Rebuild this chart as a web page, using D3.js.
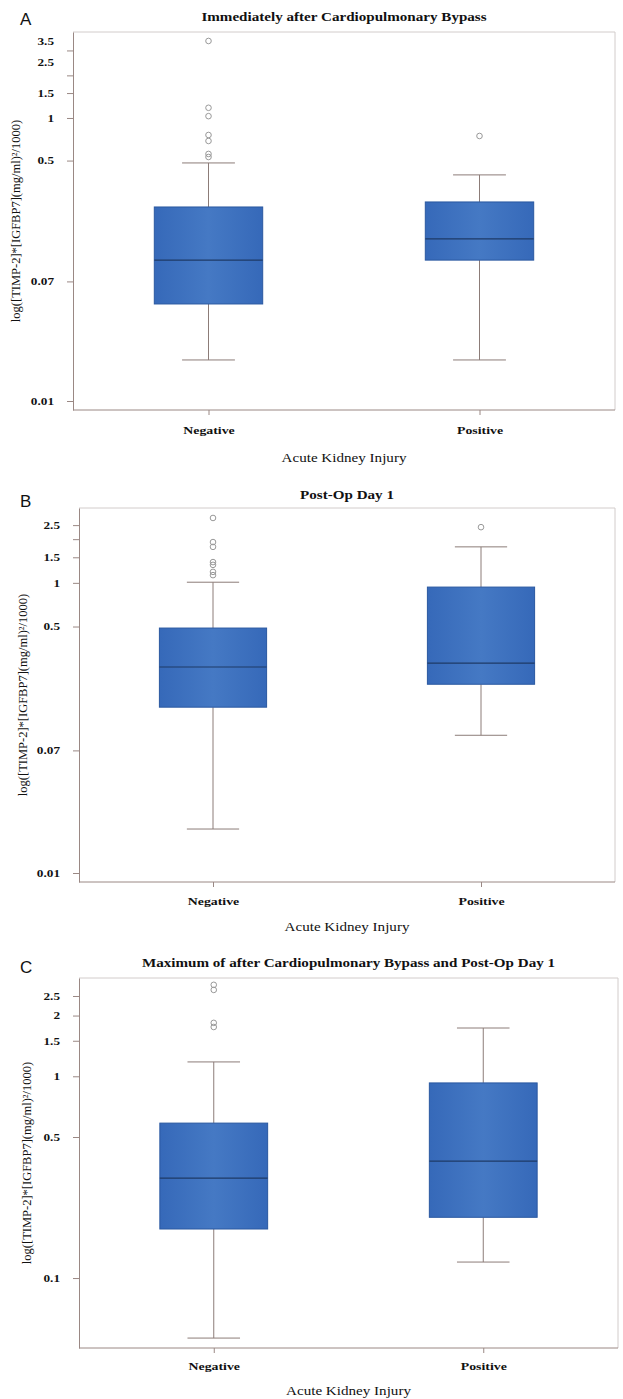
<!DOCTYPE html>
<html><head><meta charset="utf-8">
<script src="https://cdn.jsdelivr.net/npm/d3@7"></script>
<style>
body{margin:0;background:#fff;}
text{font-family:"Liberation Serif","Times New Roman",serif;fill:#111;}
</style></head>
<body><svg id="c" width="623" height="1399"></svg>
<script>
const categories = ["Negative","Positive"];
const panelLetters = ["A","B","C"];
const panelTitles = ["Immediately after Cardiopulmonary Bypass","Post-Op Day 1","Maximum of after Cardiopulmonary Bypass and Post-Op Day 1"];
const xTitle = "Acute Kidney Injury";
const yTitle = "log([TIMP-2]*[IGFBP7](mg/ml)\u00B2/1000)";

// box stats per panel: [lowerWhisker, q1, median, q3, upperWhisker] for Negative, Positive
const statsA = [[0.0195,0.0485,0.099,0.235,0.481],[0.0195,0.099,0.14,0.255,0.396]];
const statsB = [[0.0201,0.139,0.263,0.488,1.01],[0.089,0.2,0.28,0.935,1.77]];
const statsC = [[0.0504,0.175,0.313,0.586,1.178],[0.12,0.2,0.38,0.927,1.735]];
const outliersA = [[3.5,1.18,1.03,0.758,0.688,0.557,0.53],[0.746]];
const outliersB = [[2.8,1.91,1.77,1.39,1.33,1.19,1.13],[2.42]];
const outliersC = [[2.84,2.68,1.84,1.755],[]];
// tick marks and labelled values per panel
const tickMarksA = [0.01,0.07,0.5,1,1.5,2,3];
const tickLabelsA = [0.01,0.07,0.5,1,1.5,2.5,3.5];
const tickMarksB = [0.01,0.07,0.5,1,1.5,2,2.5];
const tickLabelsB = [0.01,0.07,0.5,1,1.5,2.5];
const tickMarksC = [0.1,0.5,1,1.5,2,2.5];
const tickLabelsC = [0.1,0.5,1,1.5,2,2.5];
const domainA = [0.00864,4.05];
const domainB = [0.00867,3.28];
const domainC = [0.045,3.07];

const panels = [
  {stats:statsA,out:outliersA,marks:tickMarksA,labels:tickLabelsA,domain:domainA,
   L:73,R:615,T:32,B:410,letterY:25,titleY:21,catY:434,xtY:462,ytX:16},
  {stats:statsB,out:outliersB,marks:tickMarksB,labels:tickLabelsB,domain:domainB,
   L:79,R:615,T:508,B:882,letterY:507,titleY:499,catY:905,xtY:931,ytX:23},
  {stats:statsC,out:outliersC,marks:tickMarksC,labels:tickLabelsC,domain:domainC,
   L:79,R:618,T:978,B:1348,letterY:973,titleY:967,catY:1370,xtY:1395,ytX:27}
];
const SX = 1.26; // horizontal stretch of the scanned lettering

const svg = d3.select("#c");
const defs = svg.append("defs");
const grad = defs.append("linearGradient").attr("id","bx").attr("x1","0").attr("x2","1").attr("y1","0").attr("y2","0");
grad.append("stop").attr("offset","0").attr("stop-color","#3669b9");
grad.append("stop").attr("offset","0.5").attr("stop-color","#4579c4");
grad.append("stop").attr("offset","1").attr("stop-color","#3669b9");

const fmt = d => String(d);
panels.forEach((p,i)=>{
  const g = svg.append("g");
  const x = d3.scalePoint().domain(categories).range([p.L,p.R]).padding(0.5);
  const y = d3.scaleLog().domain(p.domain).range([p.B,p.T]);
  const step = x.step();
  const bw = step*0.4, cw = step*0.195;

  // frame top/right
  g.append("path").attr("d",`M${p.L},${p.T}H${p.R}V${p.B}`).attr("fill","none").attr("stroke","#d2cccb").attr("stroke-width",1);

  // y axis: marks and labels
  const ya = g.append("g").attr("transform",`translate(${p.L},0)`)
    .call(d3.axisLeft(y).tickValues(p.marks).tickFormat("").tickSize(6).tickSizeOuter(0));
  ya.select(".domain").attr("stroke","#9a8884");
  ya.selectAll(".tick line").attr("stroke","#9a8884");
  const yl = g.append("g").attr("transform",`translate(${p.L},0)`)
    .call(d3.axisLeft(y).tickValues(p.labels).tickFormat(fmt).tickSize(0));
  yl.select(".domain").remove();
  yl.selectAll("text").attr("font-size","10.5px").attr("font-weight","bold").attr("fill","#333")
    .style("font-family","'Liberation Serif',serif").attr("x",0)
    .attr("transform",`translate(-19,0) scale(${SX},1)`);

  // x axis
  const xa = g.append("g").attr("transform",`translate(0,${p.B})`)
    .call(d3.axisBottom(x).tickSize(5).tickSizeOuter(0));
  xa.select(".domain").attr("d",`M${p.L},0H${p.R}`).attr("stroke","#9a8884");
  xa.selectAll(".tick line").attr("stroke","#9a8884");
  xa.selectAll("text").attr("font-size","11px").attr("font-weight","bold").attr("fill","#333")
    .style("font-family","'Liberation Serif',serif").attr("y",0).attr("dy",null)
    .attr("transform",`translate(0,${p.catY-p.B}) scale(${SX},1)`);

  // boxes
  categories.forEach((c,j)=>{
    const [lo,q1,med,q3,hi] = p.stats[j];
    const cx = x(c);
    const wc = "#8c7c78";
    g.append("line").attr("x1",cx).attr("x2",cx).attr("y1",y(hi)).attr("y2",y(q3)).attr("stroke",wc);
    g.append("line").attr("x1",cx).attr("x2",cx).attr("y1",y(q1)).attr("y2",y(lo)).attr("stroke",wc);
    g.append("line").attr("x1",cx-cw/2).attr("x2",cx+cw/2).attr("y1",y(hi)).attr("y2",y(hi)).attr("stroke",wc);
    g.append("line").attr("x1",cx-cw/2).attr("x2",cx+cw/2).attr("y1",y(lo)).attr("y2",y(lo)).attr("stroke",wc);
    g.append("rect").attr("x",cx-bw/2).attr("width",bw).attr("y",y(q3)).attr("height",y(q1)-y(q3))
      .attr("fill","url(#bx)").attr("stroke","#2a58a0").attr("stroke-width",1);
    g.append("line").attr("x1",cx-bw/2).attr("x2",cx+bw/2).attr("y1",y(med)).attr("y2",y(med))
      .attr("stroke","#1e3a66").attr("stroke-width",1.2);
    g.selectAll(null).data(p.out[j]).enter().append("circle")
      .attr("cx",cx).attr("cy",d=>y(d)).attr("r",2.8)
      .attr("fill","none").attr("stroke","#999").attr("stroke-width",1);
  });

  // texts
  g.append("text").attr("x",20).attr("y",p.letterY).text(panelLetters[i])
    .attr("font-size","17px").style("font-family","'Liberation Sans',Arial,sans-serif");
  g.append("text").attr("transform",`translate(${(p.L+p.R)/2},${p.titleY}) scale(${SX},1)`).attr("text-anchor","middle")
    .attr("font-size","12px").attr("font-weight","bold").text(panelTitles[i]);
  g.append("text").attr("transform",`translate(${(p.L+p.R)/2},${p.xtY}) scale(${SX},1)`).attr("text-anchor","middle")
    .attr("font-size","12px").attr("fill","#222").text(xTitle);
  g.append("text").attr("transform",`translate(${p.ytX},${(p.T+p.B)/2}) rotate(-90)`)
    .attr("text-anchor","middle").attr("dy","0.35em").attr("font-size","12.5px").attr("fill","#222").text(yTitle);
});
</script></body></html>
